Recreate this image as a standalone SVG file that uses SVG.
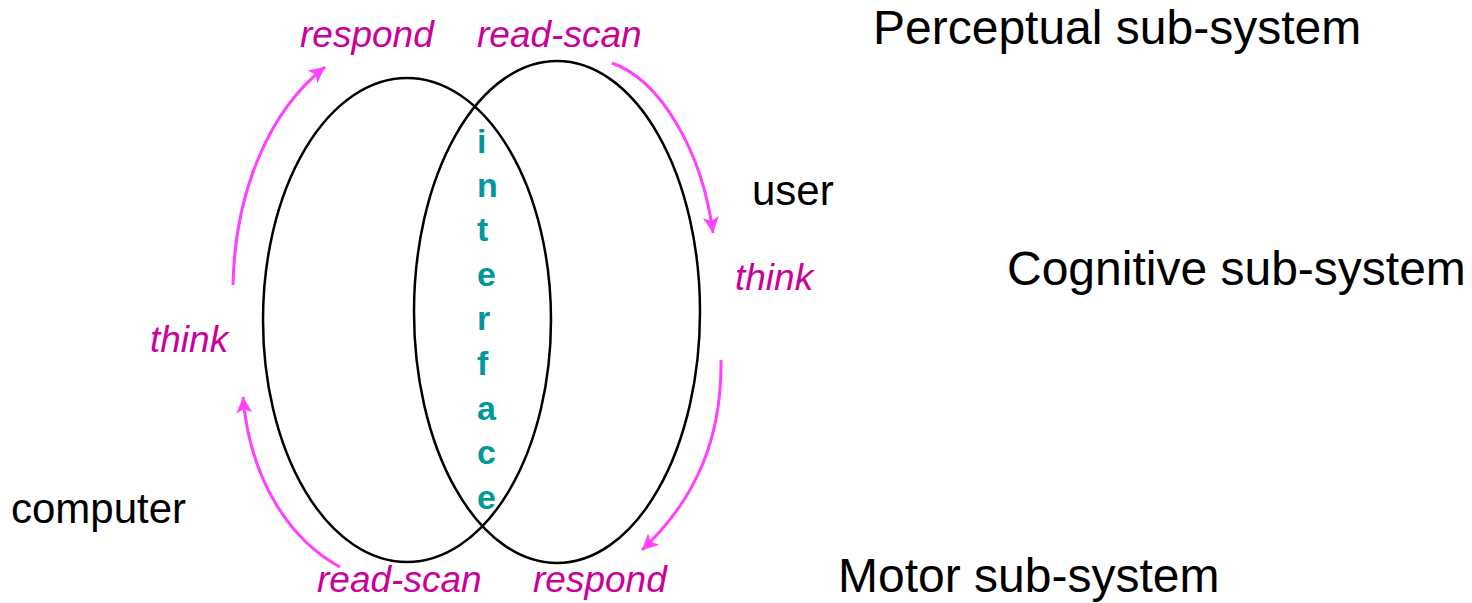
<svg xmlns="http://www.w3.org/2000/svg" width="1472" height="603" viewBox="0 0 1472 603">
<style>
.big{font-family:"Liberation Sans",Arial,sans-serif;font-size:48px;fill:#000}
.lbl{font-family:"Liberation Sans",Arial,sans-serif;font-size:42px;fill:#000}
.act{font-family:"Liberation Sans",Arial,sans-serif;font-size:37px;font-style:italic;fill:#cc0099}
.if{font-family:"Liberation Sans",Arial,sans-serif;font-size:34px;font-weight:bold;fill:#009999}
.ell{fill:none;stroke:#000;stroke-width:2.5}
.arr{fill:none;stroke:#ff40ff;stroke-width:3;marker-end:url(#ah)}
</style>
<defs>
<marker id="ah" markerUnits="userSpaceOnUse" markerWidth="20" markerHeight="20" refX="16" refY="8" orient="auto">
<path d="M0,0 L16,8 L0,16 L4,8 Z" fill="#ff40ff"/>
</marker>
</defs>
<rect width="1472" height="603" fill="#fff"/>
<g id="computer-ellipse"><ellipse class="ell" cx="407" cy="320" rx="144" ry="242"/></g>
<g id="user-ellipse"><ellipse class="ell" cx="557" cy="312" rx="143" ry="251"/></g>
<g id="connectors">
<path class="arr" d="M233,285 C235,190 270,110 325,67"/>
<path class="arr" d="M612,63 C660,80 702,150 713,233"/>
<path class="arr" d="M721,360 C722,440 695,500 642,550"/>
<path class="arr" d="M340,567 C290,540 250,480 243,397"/>
</g>
<g id="interface">
<text class="if" x="477" y="153">i</text>
<text class="if" x="477" y="197">n</text>
<text class="if" x="477" y="241">t</text>
<text class="if" x="477" y="286">e</text>
<text class="if" x="477" y="330">r</text>
<text class="if" x="477" y="375">f</text>
<text class="if" x="477" y="420">a</text>
<text class="if" x="477" y="464">c</text>
<text class="if" x="477" y="509">e</text>
</g>
<g id="labels">
<text class="act" x="300" y="47">respond</text>
<text class="act" x="477" y="47">read-scan</text>
<text class="act" x="150" y="352">think</text>
<text class="act" x="735" y="290">think</text>
<text class="act" x="317" y="592">read-scan</text>
<text class="act" x="533" y="592">respond</text>
<text class="lbl" x="752" y="205">user</text>
<text class="lbl" x="11" y="523">computer</text>
<text class="big" x="873" y="44">Perceptual sub-system</text>
<text class="big" x="1007" y="285">Cognitive sub-system</text>
<text class="big" x="838" y="592">Motor sub-system</text>
</g>
</svg>
